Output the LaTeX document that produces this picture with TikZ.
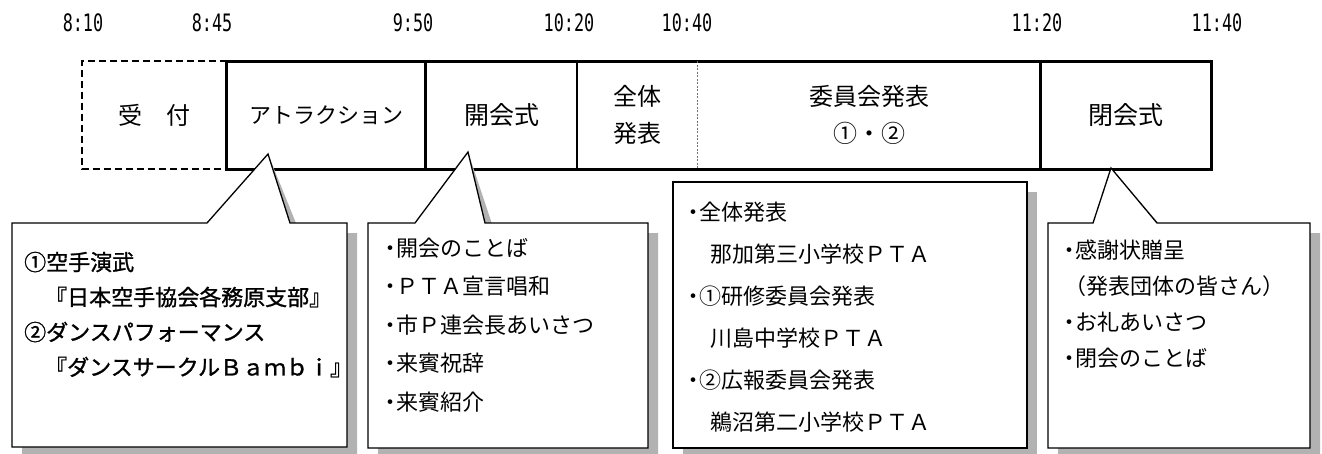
\documentclass[tikz,border=0pt]{standalone}
\usepackage{fontspec}
\setmainfont{Noto Sans CJK JP}
\newfontfamily\jpfont{Noto Sans CJK JP}
\newfontfamily\jpbold[FakeBold=1.2]{Noto Sans CJK JP}
\newfontfamily\timefont[FakeStretch=0.7]{DejaVu Sans Mono}
\newcommand\nk{\makebox[0.5em][c]{・}}
\begin{document}
\begin{tikzpicture}[x=1pt,y=-1pt,
  timelbl/.style={font=\timefont\fontsize{24}{24}\selectfont, inner sep=0pt},
  cell/.style={inner sep=0pt, minimum height=107.5pt, align=center, font=\jpfont\fontsize{24}{37}\selectfont},
  barline/.style={line width=3pt},
  shadowfill/.style={fill=black!30, draw=none},
  callout/.style={fill=white, draw=black, line width=1.3pt, line join=miter},
  ctext/.style={anchor=base west, inner sep=0pt, font=\jpfont\fontsize{22}{22}\selectfont},
  ktext/.style={anchor=base west, inner sep=0pt, font=\jpbold\fontsize{22}{22}\selectfont},
]
\useasboundingbox (0,0) rectangle (1322,453);

% time labels
\node[timelbl] (t1) at (83,23) {8:10};
\node[timelbl] (t2) at (212,23) {8:45};
\node[timelbl] (t3) at (413,23) {9:50};
\node[timelbl] (t4) at (569,23) {10:20};
\node[timelbl] (t5) at (687,23) {10:40};
\node[timelbl] (t6) at (1037,23) {11:20};
\node[timelbl] (t7) at (1217,23) {11:40};

% bar cells
\node[cell, minimum width=145pt] (uke) at (154.5,115.25) {受　付};
\node[cell, minimum width=199pt, font=\jpfont\fontsize{22}{22}\selectfont] (attr) at (326.5,115.25) {アトラクション};
\node[cell, minimum width=151pt, font=\jpfont\fontsize{25}{25}\selectfont] (kai) at (501.5,115.25) {開会式};
\node[cell, minimum width=121pt] (zen) at (637.5,115.25) {全体\\発表};
\node[cell, minimum width=343pt] (iin) at (869.5,115.25) {委員会発表\\①・②};
\node[cell, minimum width=170pt, font=\jpfont\fontsize{25}{25}\selectfont] (hei) at (1126,115.25) {閉会式};

\draw[line width=2pt, dash pattern=on 7pt off 4pt] (uke.north east) -- (uke.north west) -- (uke.south west) -- (uke.south east);
\draw[barline] (attr.north west) rectangle (hei.south east);
\draw[barline] (kai.north west) -- (kai.south west);
\draw[barline] (hei.north west) -- (hei.south west);
\draw[line width=2pt] (zen.north west) -- (zen.south west);
\draw[line width=0.9pt, black!55, dash pattern=on 2pt off 1.5pt] (iin.north west) -- (iin.south west);

% pointer tips
\coordinate (p1) at (268,154);
\coordinate (p2) at (468,152);
\coordinate (p4) at (1111,168);

% shadows
\fill[shadowfill, shift={(10,10)}] (12,223) -- (207,223) -- (p1) -- (290,223) -- (347,223) -- (347,447) -- (12,447) -- cycle;
\fill[shadowfill, shift={(10,10)}] (368,223) -- (415,223) -- (p2) -- (485,223) -- (648,223) -- (648,448) -- (368,448) -- cycle;
\fill[shadowfill] (683,192) rectangle (1037,458);
\fill[shadowfill, shift={(10,10)}] (1048,223) -- (1093,223) -- (p4) -- (1157,223) -- (1310,223) -- (1310,448) -- (1048,448) -- cycle;

% callouts
\draw[callout] (12,223) -- (207,223) -- (p1) -- (290,223) -- (347,223) -- (347,447) -- (12,447) -- cycle;
\draw[callout] (368,223) -- (415,223) -- (p2) -- (485,223) -- (648,223) -- (648,448) -- (368,448) -- cycle;
\draw[callout] (673,182) rectangle (1027,448);
\draw[callout] (1048,223) -- (1093,223) -- (p4) -- (1157,223) -- (1310,223) -- (1310,448) -- (1048,448) -- cycle;

% callout 1 text
\node[ktext] (a1) at (24,270.4) {①空手演武};
\node[ktext] (a2) at (45,305.4) {『日本空手協会各務原支部』};
\node[ktext] (a3) at (24,340.4) {②ダンスパフォーマンス};
\node[ktext] (a4) at (45,375.4) {『ダンスサークルＢａｍｂｉ』};

% callout 2 text
\node[ctext] (b1) at (385,256.4) {\nk 開会のことば};
\node[ctext] (b2) at (385,294.9) {\nk ＰＴＡ宣言唱和};
\node[ctext] (b3) at (385,333.4) {\nk 市Ｐ連会長あいさつ};
\node[ctext] (b4) at (385,371.9) {\nk 来賓祝辞};
\node[ctext] (b5) at (385,410.4) {\nk 来賓紹介};

% callout 3 text
\node[ctext] (c1) at (688,220.4) {\nk 全体発表};
\node[ctext] (c2) at (710,262.4) {那加第三小学校ＰＴＡ};
\node[ctext] (c3) at (688,304.4) {\nk ①研修委員会発表};
\node[ctext] (c4) at (710,346.4) {川島中学校ＰＴＡ};
\node[ctext] (c5) at (688,388.4) {\nk ②広報委員会発表};
\node[ctext] (c6) at (710,430.4) {鵜沼第二小学校ＰＴＡ};

% callout 4 text
\node[ctext] (d1) at (1064,258.4) {\nk 感謝状贈呈};
\node[ctext] (d2) at (1064,294.4) {（発表団体の皆さん）};
\node[ctext] (d3) at (1064,330.4) {\nk お礼あいさつ};
\node[ctext] (d4) at (1064,366.4) {\nk 閉会のことば};
\end{tikzpicture}
\end{document}
